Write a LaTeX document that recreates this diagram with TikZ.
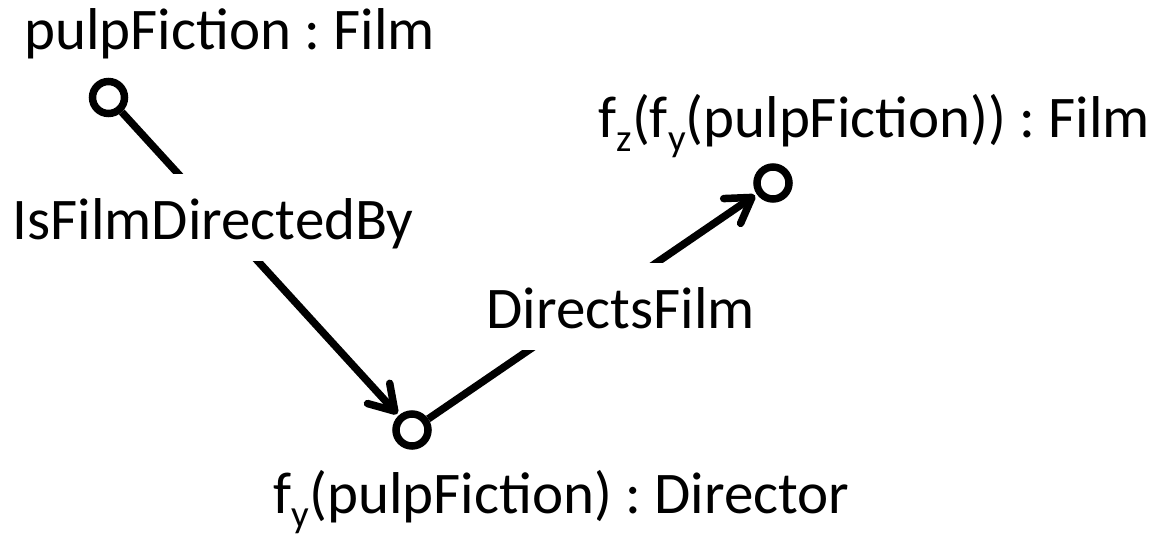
\documentclass[tikz,border=0pt]{standalone}
\usepackage{fontspec}
\setmainfont{Carlito}
\usetikzlibrary{arrows.meta}
\newcommand\subtxt[1]{\raisebox{-14pt}{\fontsize{39}{40}\selectfont #1}}
\frenchspacing
\begin{document}
\begin{tikzpicture}[x=1pt,y=-1pt,
  vert/.style={circle, draw, line width=7.5pt, minimum size=32pt, inner sep=0pt, outer sep=3.75pt},
  lab/.style={font=\fontsize{59}{70}\selectfont, inner sep=0pt, anchor=base west},
  gaplab/.style={lab, fill=white, text height=65.5pt, text depth=21.5pt},
  rel/.style={line width=7.5pt, -{Straight Barb[length=24pt,width=30pt,round]}, shorten >=2pt}
]
\useasboundingbox (0,0) rectangle (1158,535);
\node[vert] (c1) at (108.5,97.5) {};
\node[vert] (c2) at (412,430) {};
\node[vert] (c3) at (773,183) {};
\draw[rel] (c1) -- (c2);
\draw[rel] (c2) -- (c3);
\node[lab] (t1) at (24,50) {pulpFiction : Film};
\node[gaplab] (l1) at (12.5,239) {IsFilmDirectedBy};
\node[gaplab] (l2) at (486.5,328) {DirectsFilm};
\node[lab] (t3) at (598.5,137) {f\subtxt{z}(f\subtxt{y}(pulpFiction)) : Film};
\node[lab] (t2) at (273.5,513) {f\subtxt{y}(pulpFiction) : Director};
\end{tikzpicture}
\end{document}
